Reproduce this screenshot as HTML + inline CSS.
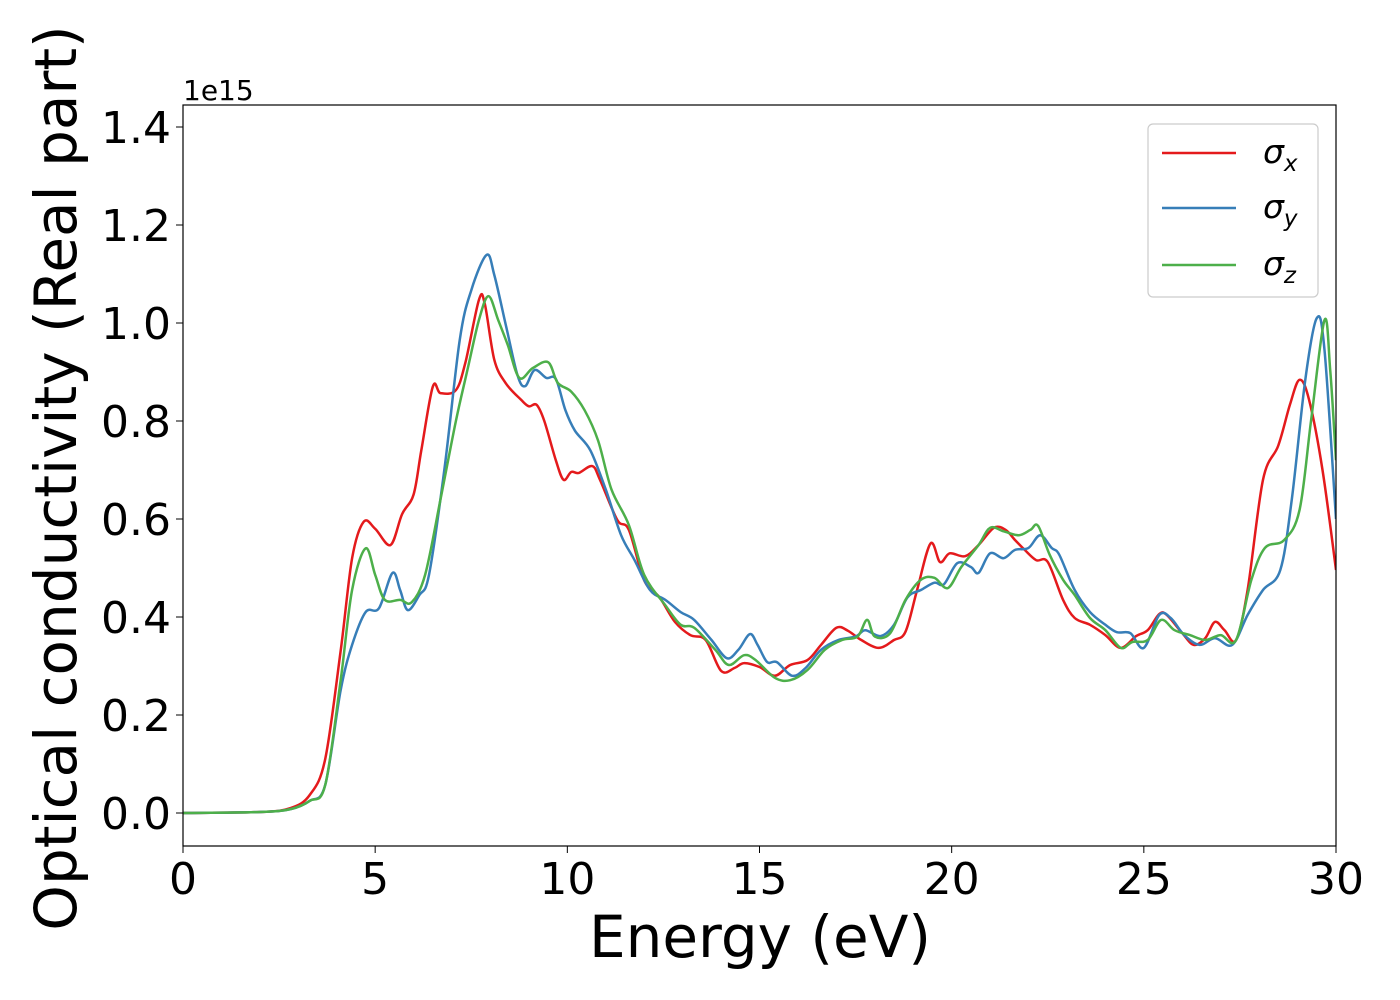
<!DOCTYPE html>
<html><head><meta charset="utf-8"><style>
html,body{margin:0;padding:0;background:#fff;}
svg{display:block;font-family:"DejaVu Sans","Liberation Sans",sans-serif;}
</style></head><body>
<svg id="chart" width="1400" height="1000" xmlns="http://www.w3.org/2000/svg">
<rect width="1400" height="1000" fill="#fff"/>
<g id="series"></g>
<rect x="183" y="105" width="1153" height="741" fill="none" stroke="#000" stroke-width="1.2"/>
<g id="xticks"></g><g id="yticks"></g>
<text x="183" y="100" font-size="28">1e15</text>
<text x="760" y="957" font-size="58" text-anchor="middle">Energy (eV)</text>
<text transform="translate(76,478) rotate(-90)" font-size="58" text-anchor="middle">Optical conductivity (Real part)</text>
<g>
<rect x="1148" y="124" width="170" height="173" rx="5" fill="#fff" stroke="#ccc" stroke-width="1.2"/>
<line x1="1162" x2="1236" y1="153" y2="153" stroke="#e41a1c" stroke-width="2.5"/>
<text x="1263" y="163" font-size="33" font-style="italic">σ<tspan font-size="23" dy="8">x</tspan></text>
<line x1="1162" x2="1236" y1="208" y2="208" stroke="#377eb8" stroke-width="2.5"/>
<text x="1263" y="218" font-size="33" font-style="italic">σ<tspan font-size="23" dy="8">y</tspan></text>
<line x1="1162" x2="1236" y1="265" y2="265" stroke="#4daf4a" stroke-width="2.5"/>
<text x="1263" y="275" font-size="33" font-style="italic">σ<tspan font-size="23" dy="8">z</tspan></text>
</g>
</svg>
<script>
const xTickLabels=[0,5,10,15,20,25,30];
const yTickLabels=[0.0,0.2,0.4,0.6,0.8,1.0,1.2,1.4];
const redX=[0,2,2.8,3.3,3.7,4.1,4.4,4.7,5.0,5.4,5.7,6.0,6.2,6.5,6.7,7.1,7.35,7.7,7.85,8.1,8.4,8.8,9.0,9.2,9.4,9.7,9.9,10.1,10.3,10.65,10.85,11.3,11.6,12.0,12.4,12.8,13.2,13.6,14.0,14.35,14.6,15.0,15.4,15.8,16.25,16.6,17.0,17.3,17.65,18.1,18.5,18.8,19.1,19.45,19.7,19.95,20.35,20.7,21.1,21.4,21.65,21.9,22.2,22.5,22.9,23.2,23.6,24.0,24.4,24.8,25.1,25.4,25.6,26.0,26.3,26.6,26.85,27.1,27.4,27.7,28.1,28.5,28.8,29.05,29.3,29.65,30];
const redY=[0,0.002,0.01,0.037,0.11,0.33,0.52,0.594,0.58,0.547,0.61,0.65,0.74,0.87,0.857,0.863,0.92,1.047,1.04,0.925,0.877,0.843,0.83,0.833,0.8,0.72,0.68,0.696,0.694,0.708,0.68,0.598,0.578,0.475,0.44,0.39,0.363,0.353,0.29,0.296,0.306,0.298,0.28,0.302,0.312,0.343,0.378,0.372,0.353,0.337,0.353,0.37,0.455,0.55,0.512,0.53,0.524,0.547,0.582,0.578,0.557,0.537,0.516,0.512,0.435,0.398,0.384,0.363,0.337,0.361,0.373,0.406,0.404,0.367,0.343,0.357,0.39,0.373,0.353,0.455,0.68,0.75,0.833,0.884,0.843,0.7,0.496];
const blueX=[0,2,2.8,3.3,3.7,4.1,4.4,4.75,5.1,5.45,5.65,5.85,6.15,6.4,6.8,7.2,7.5,7.9,8.1,8.4,8.7,8.9,9.15,9.45,9.7,9.95,10.2,10.6,11.0,11.4,11.75,12.15,12.55,12.95,13.3,13.75,14.15,14.45,14.75,14.95,15.2,15.45,15.85,16.2,16.6,17.05,17.5,17.75,18.15,18.5,18.85,19.2,19.55,19.8,20.15,20.5,20.7,21.0,21.35,21.65,22.0,22.3,22.6,22.8,23.2,23.6,24.0,24.3,24.65,25.0,25.4,25.7,26.05,26.45,26.85,27.3,27.7,28.1,28.55,28.85,29.2,29.5,29.7,30];
const blueY=[0,0.002,0.008,0.025,0.057,0.25,0.343,0.41,0.418,0.49,0.455,0.414,0.445,0.486,0.7,0.965,1.067,1.139,1.098,0.996,0.894,0.871,0.904,0.888,0.886,0.822,0.78,0.74,0.66,0.567,0.516,0.455,0.435,0.41,0.394,0.353,0.316,0.333,0.365,0.343,0.308,0.308,0.28,0.296,0.333,0.353,0.36,0.373,0.361,0.384,0.44,0.455,0.47,0.467,0.51,0.502,0.49,0.53,0.52,0.537,0.541,0.567,0.541,0.527,0.455,0.41,0.384,0.369,0.367,0.337,0.404,0.398,0.363,0.343,0.357,0.343,0.404,0.455,0.496,0.64,0.884,1.01,0.945,0.6];
const greenX=[0,2,2.8,3.3,3.7,4.1,4.4,4.75,5.0,5.25,5.65,5.95,6.3,6.7,7.1,7.4,7.7,7.95,8.2,8.45,8.75,9.1,9.5,9.75,10.1,10.45,10.8,11.15,11.6,12.0,12.55,12.95,13.3,13.85,14.2,14.6,14.9,15.4,15.8,16.25,16.7,17.15,17.55,17.8,18.0,18.4,18.8,19.2,19.55,19.9,20.25,20.7,21.0,21.35,21.75,22.05,22.25,22.55,22.9,23.2,23.6,24.0,24.4,24.7,25.1,25.45,25.8,26.2,26.6,27.0,27.4,27.8,28.15,28.65,29.05,29.35,29.7,29.85,30];
const greenY=[0,0.002,0.008,0.025,0.057,0.27,0.455,0.54,0.486,0.435,0.435,0.43,0.486,0.64,0.8,0.904,1.006,1.055,1.006,0.955,0.888,0.908,0.92,0.878,0.86,0.822,0.76,0.66,0.588,0.486,0.424,0.384,0.378,0.333,0.302,0.322,0.312,0.276,0.271,0.292,0.333,0.353,0.36,0.394,0.36,0.367,0.435,0.476,0.48,0.459,0.502,0.547,0.582,0.575,0.567,0.578,0.586,0.527,0.476,0.445,0.398,0.373,0.337,0.349,0.353,0.394,0.373,0.363,0.353,0.363,0.353,0.476,0.541,0.557,0.618,0.8,1.006,0.904,0.72];

const X0=183,X1=1336,XMIN=0,XMAX=30,Y0=813,YPER=490;
function sx(v){return X0+(v-XMIN)/(XMAX-XMIN)*(X1-X0);}
function sy(v){return Y0-v*YPER;}
const NS='http://www.w3.org/2000/svg';
function pathFrom(xs,ys){
  const p=xs.map((x,i)=>[sx(x),sy(ys[i])]);
  let d='M'+p[0][0].toFixed(1)+','+p[0][1].toFixed(1);
  for(let i=0;i<p.length-1;i++){
    const a=p[Math.max(i-1,0)],b=p[i],c=p[i+1],e=p[Math.min(i+2,p.length-1)];
    const c1=[b[0]+(c[0]-a[0])/6,b[1]+(c[1]-a[1])/6];
    const c2=[c[0]-(e[0]-b[0])/6,c[1]-(e[1]-b[1])/6];
    d+=' C'+c1[0].toFixed(1)+','+c1[1].toFixed(1)+' '+c2[0].toFixed(1)+','+c2[1].toFixed(1)+' '+c[0].toFixed(1)+','+c[1].toFixed(1);
  }
  return d;
}
const sg=document.getElementById('series');
const defs=document.createElementNS(NS,'clipPath');defs.setAttribute('id','clip');
const cr=document.createElementNS(NS,'rect');cr.setAttribute('x',183);cr.setAttribute('y',105);cr.setAttribute('width',1153);cr.setAttribute('height',741);
defs.appendChild(cr);sg.appendChild(defs);
[['sigma-x-line',redX,redY,'#e41a1c'],['sigma-y-line',blueX,blueY,'#377eb8'],['sigma-z-line',greenX,greenY,'#4daf4a']].forEach(s=>{
  const el=document.createElementNS(NS,'path');
  el.setAttribute('d',pathFrom(s[1],s[2]));
  el.setAttribute('fill','none');el.setAttribute('stroke',s[3]);el.setAttribute('stroke-width','2.5');
  el.setAttribute('clip-path','url(#clip)');
  
  
  sg.appendChild(el);
});
const xg=document.getElementById('xticks');
xTickLabels.forEach(v=>{
  const l=document.createElementNS(NS,'line');
  l.setAttribute('x1',sx(v));l.setAttribute('x2',sx(v));l.setAttribute('y1',846);l.setAttribute('y2',853);l.setAttribute('stroke','#000');
  
  
  xg.appendChild(l);
  const t=document.createElementNS(NS,'text');
  t.setAttribute('x',sx(v));t.setAttribute('y',894);t.setAttribute('font-size','44');t.setAttribute('text-anchor','middle');
  t.textContent=v;
  
  
  xg.appendChild(t);
});
const yg=document.getElementById('yticks');
yTickLabels.forEach(v=>{
  const l=document.createElementNS(NS,'line');
  l.setAttribute('x1',176);l.setAttribute('x2',183);l.setAttribute('y1',sy(v));l.setAttribute('y2',sy(v));l.setAttribute('stroke','#000');
  
  
  yg.appendChild(l);
  const t=document.createElementNS(NS,'text');
  t.setAttribute('x',171);t.setAttribute('y',sy(v)+16);t.setAttribute('font-size','44');t.setAttribute('text-anchor','end');
  t.textContent=v.toFixed(1);
  
  
  yg.appendChild(t);
});
</script>
</body></html>
